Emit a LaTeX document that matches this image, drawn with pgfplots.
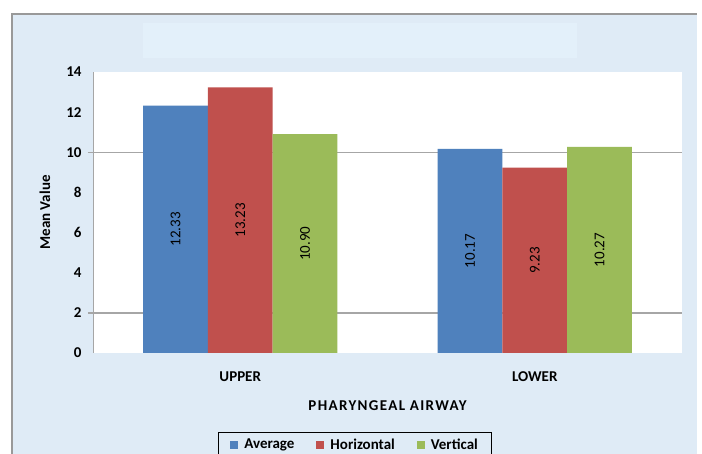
\documentclass[border=0pt]{standalone}
\usepackage{fontspec}
\setmainfont{Carlito}
\usepackage{pgfplots}
\usepackage{pgfplotstable}
\pgfplotsset{compat=1.18}

\definecolor{avgblue}{HTML}{4F81BD}
\definecolor{horred}{HTML}{C0504D}
\definecolor{vergreen}{HTML}{9BBB59}
\definecolor{panel}{HTML}{DFEBF6}
\definecolor{titlebox}{HTML}{E3F0FA}
\definecolor{gridgray}{HTML}{A6A6A6}

% x = 0 : UPPER, x = 1 : LOWER
\pgfplotstableread{
x y
0 12.33
1 10.17
}\avgdata
\pgfplotstableread{
x y
0 13.23
1 9.23
}\hordata
\pgfplotstableread{
x y
0 10.90
1 10.27
}\verdata

\pgfplotsset{
  sqlegend/.style={legend image code/.code={\fill[##1] (0pt,-4pt) rectangle (8pt,4pt);}},
  barlabels/.style={only marks, mark=*, mark size=0pt,
    mark options={draw=none, fill=none},
    nodes near coords, point meta=explicit,
    nodes near coords style={rotate=90, anchor=center, text=black,
      font=\fontsize{15}{17}\selectfont,
      /pgf/number format/.cd, fixed, fixed zerofill, precision=2,
      assume math mode=true},
    forget plot},
}

\begin{document}
\begin{tikzpicture}
\useasboundingbox (0,0) rectangle (702pt,454pt);
% chart panel and title strip
\fill[panel] (12pt,-20pt) rectangle (697pt,440pt);
\draw[gray!80, line width=1.2pt] (12pt,-20pt) -- (12pt,440pt) -- (697pt,440pt);
\fill[titlebox] (143pt,396pt) rectangle (577pt,431pt);
\begin{axis}[
  at={(93pt,101pt)}, anchor=south west,
  scale only axis, width=589pt, height=281pt,
  xmin=-0.5, xmax=1.5, ymin=0, ymax=14,
  axis background/.style={fill=white},
  axis lines*=left,
  x axis line style={draw=none},
  y axis line style={draw=gridgray, line width=1pt},
  xtick={0,1}, xticklabels={UPPER,LOWER},
  ytick={0,2,...,14},
  /pgf/number format/assume math mode=true,
  major tick length=0pt,
  extra y ticks={2,10}, extra y tick labels={},
  extra y tick style={grid=major, major grid style={draw=gridgray, line width=1.4pt},
    major tick length=5pt, tick align=outside, tick style={draw=gridgray, line width=1.4pt}},
  tick label style={font=\bfseries\fontsize{15}{17}\selectfont},
  yticklabel style={xshift=-8pt},
  xticklabel style={anchor=center, yshift=-24pt},
  xlabel={PHARYNGEAL AIRWAY},
  ylabel={Mean Value},
  label style={font=\bfseries\fontsize{15}{17}\selectfont},
  xlabel style={at={(axis description cs:0.5,-0.188)}, anchor=center,
    font=\bfseries\fontsize{15}{17}\selectfont\addfontfeature{LetterSpace=9}},
  ylabel style={at={(axis description cs:-0.0815,0.5)}, anchor=center},
  legend columns=3,
  legend style={at={(axis description cs:0.445,-0.281)}, anchor=north,
    draw=black, line width=1.2pt, fill=none,
    font=\bfseries\fontsize{15}{17}\selectfont,
    inner xsep=12pt, inner ysep=4pt,
    /tikz/every odd column/.append style={column sep=4pt},
    /tikz/every even column/.append style={column sep=20pt}},
]
\addplot[ybar, bar width=0.22, bar shift=0pt, fill=avgblue, draw=none, sqlegend]
  table[x expr=\thisrow{x}-0.22, y=y] {\avgdata};
\addlegendentry{Average}
\addplot[ybar, bar width=0.22, bar shift=0pt, fill=horred, draw=none, sqlegend]
  table[x=x, y=y] {\hordata};
\addlegendentry{Horizontal}
\addplot[ybar, bar width=0.22, bar shift=0pt, fill=vergreen, draw=none, sqlegend]
  table[x expr=\thisrow{x}+0.22, y=y] {\verdata};
\addlegendentry{Vertical}

% value labels centred inside each bar
\addplot[barlabels] table[x expr=\thisrow{x}-0.22, y expr=\thisrow{y}/2, meta=y] {\avgdata};
\addplot[barlabels] table[x=x, y expr=\thisrow{y}/2, meta=y] {\hordata};
\addplot[barlabels] table[x expr=\thisrow{x}+0.22, y expr=\thisrow{y}/2, meta=y] {\verdata};
\end{axis}
\end{tikzpicture}
\end{document}
